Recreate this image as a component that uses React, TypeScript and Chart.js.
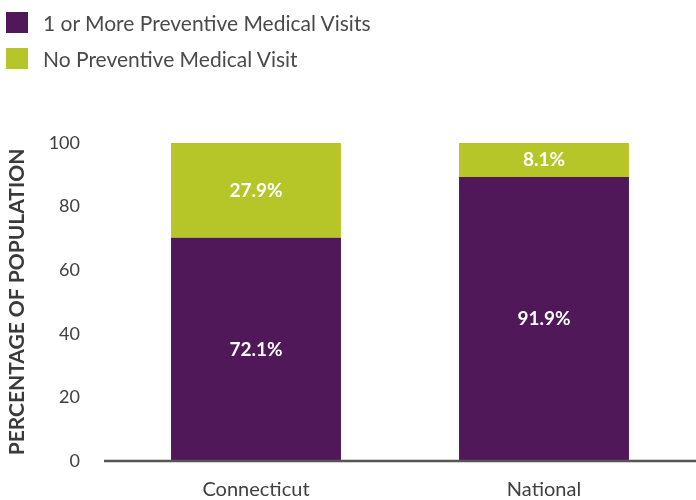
import React, { useEffect, useRef } from "react";
import { Chart, registerables } from "chart.js";

Chart.register(...registerables);

const categories = ["Connecticut", "National"];
const seriesNames = ["1 or More Preventive Medical Visits", "No Preventive Medical Visit"];
const visitValues = [70.2, 89.3];
const noVisitValues = [29.8, 10.7];
const visitLabels = ["72.1%", "91.9%"];
const noVisitLabels = ["27.9%", "8.1%"];
const yTicks = [0, 20, 40, 60, 80, 100];
const yTitle = "PERCENTAGE OF POPULATION";

const PURPLE = "#501759";
const GREEN = "#B6C527";
const FONT = "Lato, 'Open Sans', sans-serif";

export default function App() {
  const ref = useRef<HTMLCanvasElement | null>(null);

  useEffect(() => {
    if (!ref.current) return;
    const labelSets = [visitLabels, noVisitLabels];
    const labelPlugin = {
      id: "segLabels",
      afterDatasetsDraw(chart: any) {
        const ctx = chart.ctx;
        ctx.save();
        ctx.fillStyle = "#ffffff";
        ctx.font = `bold 19px ${FONT}`;
        ctx.textAlign = "center";
        ctx.textBaseline = "middle";
        chart.data.datasets.forEach((_: any, di: number) => {
          const meta = chart.getDatasetMeta(di);
          meta.data.forEach((el: any, i: number) => {
            const y = (el.y + el.base) / 2;
            ctx.fillText(labelSets[di][i], el.x, y);
          });
        });
        ctx.restore();
      },
    };
    const baselinePlugin = {
      id: "baseline",
      afterDatasetsDraw(chart: any) {
        const { ctx, chartArea } = chart;
        const y = chart.scales.y.getPixelForValue(0);
        ctx.save();
        ctx.strokeStyle = "#555555";
        ctx.lineWidth = 2.5;
        ctx.beginPath();
        ctx.moveTo(chartArea.left - 8, y);
        ctx.lineTo(chartArea.right + 8, y);
        ctx.stroke();
        ctx.restore();
      },
    };

    const chart = new Chart(ref.current, {
      type: "bar",
      data: {
        labels: categories,
        datasets: [
          { label: seriesNames[0], data: visitValues, backgroundColor: PURPLE },
          { label: seriesNames[1], data: noVisitValues, backgroundColor: GREEN },
        ],
      },
      options: {
        animation: false,
        responsive: false,
        maintainAspectRatio: false,
        layout: { padding: { top: 143, right: 8, left: 0, bottom: 0 } },
        datasets: { bar: { categoryPercentage: 1, barPercentage: 0.59 } },
        plugins: {
          legend: { display: false },
          tooltip: { enabled: false },
        },
        scales: {
          x: {
            stacked: true,
            grid: { display: false },
            border: { display: false },
            ticks: { color: "#404040", font: { family: FONT, size: 20 }, padding: 9 },
            afterFit(scale: any) {
              scale.height = 39;
            },
          },
          y: {
            stacked: true,
            min: 0,
            max: 100,
            afterBuildTicks(scale: any) {
              scale.ticks = yTicks.map((v) => ({ value: v }));
            },
            grid: { display: false },
            border: { display: false },
            ticks: { color: "#404040", font: { family: FONT, size: 18 }, padding: 24 },
            title: {
              display: true,
              text: yTitle,
              color: "#3a3a3a",
              font: { family: FONT, size: 21, weight: "bold" },
              padding: { top: 5, bottom: 0 },
            },
            afterFit(scale: any) {
              scale.width = 112;
            },
          },
        },
      },
      plugins: [labelPlugin, baselinePlugin],
    } as any);
    return () => chart.destroy();
  }, []);

  const colors = [PURPLE, GREEN];
  return (
    <div style={{ position: "fixed", left: 0, top: 0, width: 696, height: 500, background: "#fff" }}>
      <canvas ref={ref} width={696} height={500} style={{ position: "absolute", left: 0, top: 0 }} />
      {seriesNames.map((name, i) => (
        <div
          key={name}
          style={{
            position: "absolute",
            left: 6,
            top: 12 + i * 36,
            height: 21,
            display: "flex",
            alignItems: "center",
            fontFamily: FONT,
            fontSize: 21,
            color: "#4a4a4a",
            whiteSpace: "nowrap",
          }}
        >
          <span style={{ display: "inline-block", flex: "none", width: 22, height: 21, background: colors[i], marginRight: 15 }} />
          <span>{name}</span>
        </div>
      ))}
    </div>
  );
}
